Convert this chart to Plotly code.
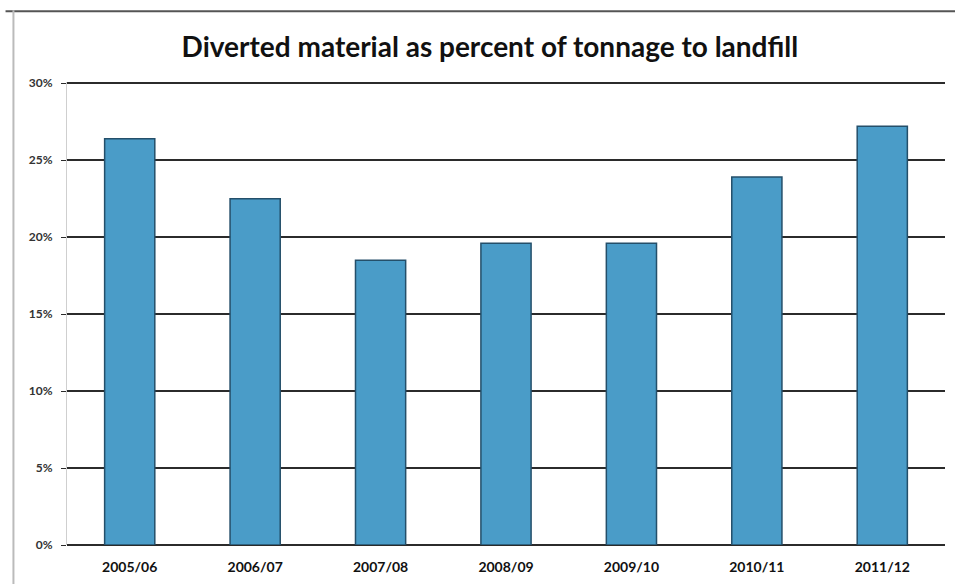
import plotly.graph_objects as go

# Diverted material as a share of landfill tonnage, by financial year
years = ["2005/06", "2006/07", "2007/08", "2008/09", "2009/10", "2010/11", "2011/12"]
diverted_pct = [26.4, 22.5, 18.5, 19.6, 19.6, 23.9, 27.2]
y_ticks = [0, 5, 10, 15, 20, 25, 30]
y_tick_labels = ["0%", "5%", "10%", "15%", "20%", "25%", "30%"]

fig = go.Figure(
    go.Bar(
        x=years,
        y=diverted_pct,
        marker=dict(color="#4a9cc8", line=dict(color="#244f6a", width=1.5)),
        hoverinfo="x+y",
    )
)

fig.update_layout(
    width=955,
    height=584,
    margin=dict(l=67, r=10, t=82, b=39),
    paper_bgcolor="white",
    plot_bgcolor="white",
    bargap=0.6,
    showlegend=False,
    title=dict(
        text="<b>Diverted material as percent of tonnage to landfill</b>",
        x=0.513,
        xanchor="center",
        y=0.92,
        yanchor="middle",
        font=dict(family="Lato, Arial, sans-serif", size=28, color="#111111"),
    ),
    font=dict(family="Lato, Arial, sans-serif"),
)

fig.update_xaxes(
    showgrid=False,
    showline=False,
    ticks="",
    ticklabelstandoff=12,
    tickfont=dict(size=14, color="#111111", family="Lato, Arial, sans-serif", weight="bold"),
)

fig.update_yaxes(
    range=[0, 30.08],
    tickvals=y_ticks,
    ticktext=y_tick_labels,
    showgrid=True,
    gridcolor="#2b2b2b",
    gridwidth=1.5,
    zeroline=True,
    zerolinecolor="#2b2b2b",
    zerolinewidth=1.5,
    showline=True,
    linecolor="#cfcfcf",
    linewidth=1,
    ticks="outside",
    ticklen=5,
    tickcolor="#2b2b2b",
    ticklabelstandoff=6,
    tickfont=dict(size=12, color="#333333", family="Lato, Arial, sans-serif", weight="bold"),
)

# Outer chart frame along the top and left edges
fig.add_shape(
    type="line", xref="paper", yref="paper",
    x0=-0.07, x1=1.02, y0=1.153, y1=1.153,
    line=dict(color="#555555", width=2),
)
fig.add_shape(
    type="line", xref="paper", yref="paper",
    x0=-0.061, x1=-0.061, y0=-0.1, y1=1.155,
    line=dict(color="#bbbbbb", width=2),
)

fig.write_html("out.html")
